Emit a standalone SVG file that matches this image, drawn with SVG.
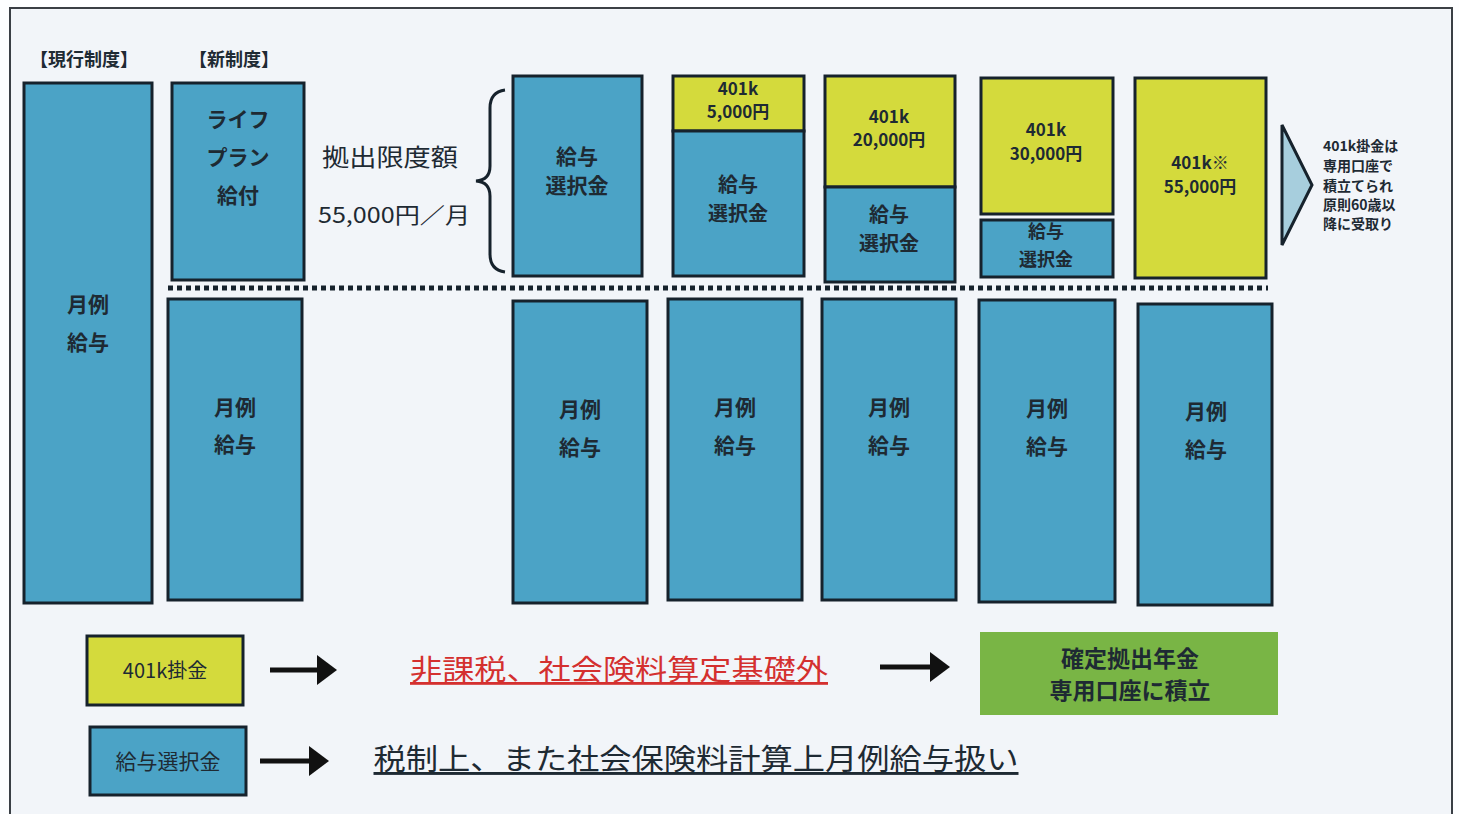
<svg xmlns="http://www.w3.org/2000/svg" width="1459" height="814" viewBox="0 0 1459 814">
<defs>
<style>
.t{font-family:"Noto Sans CJK JP","Liberation Sans",sans-serif;font-weight:bold;fill:#1e2a33;text-anchor:middle}
.b{fill:#4ba3c6;stroke:#16222c;stroke-width:3}
.y{fill:#d4da3c;stroke:#16222c;stroke-width:3}
.bt{font-size:21px}
.yt{font-size:17px}
.conn{stroke:#111;stroke-width:5;fill:none}
</style>
<marker id="ah" markerWidth="6" markerHeight="6" refX="3" refY="3" orient="auto" markerUnits="strokeWidth">
<path d="M0,0 L4,3 L0,6 Z" fill="#111"/>
</marker>
</defs>
<rect x="0" y="0" width="1459" height="814" fill="#fdfeff"/>
<rect x="10" y="8" width="1442" height="810" fill="#f2f5f9" stroke="#3a3f45" stroke-width="2"/>

<text class="t" x="84" y="66" style="font-size:18px" textLength="108" lengthAdjust="spacingAndGlyphs">【現行制度】</text>
<text class="t" x="234" y="66" style="font-size:18px" textLength="90" lengthAdjust="spacingAndGlyphs">【新制度】</text>

<g id="current">
<rect class="b" x="24" y="83" width="128" height="520"/>
<text class="t bt" x="88" y="312">月例</text>
<text class="t bt" x="88" y="350">給与</text>
</g>

<g id="lifeplan">
<rect class="b" x="172" y="83" width="132" height="197"/>
<text class="t bt" x="238" y="127">ライフ</text>
<text class="t bt" x="238" y="165">プラン</text>
<text class="t bt" x="238" y="203">給付</text>
</g>
<g id="new-monthly">
<rect class="b" x="168" y="299" width="134" height="301"/>
<text class="t bt" x="235" y="415">月例</text>
<text class="t bt" x="235" y="452">給与</text>
</g>

<g id="limit">
<text class="t" x="390" y="166" style="font-size:24px;font-weight:normal" textLength="136" lengthAdjust="spacingAndGlyphs">拠出限度額</text>
<text class="t" x="394" y="223" style="font-size:22px;font-weight:normal" textLength="152" lengthAdjust="spacingAndGlyphs">55,000円／月</text>
<path d="M505,90 Q490,92 490,108 L490,166 Q490,180 476,181 Q490,182 490,196 L490,254 Q490,270 505,272" fill="none" stroke="#16222c" stroke-width="3"/>
</g>

<line x1="168" y1="288" x2="1268" y2="288" stroke="#16222c" stroke-width="5" stroke-dasharray="5,4"/>

<g id="col1">
<rect class="b" x="513" y="76" width="129" height="200"/>
<text class="t bt" x="577" y="164">給与</text>
<text class="t bt" x="577" y="193">選択金</text>
</g>
<g id="col1-monthly">
<rect class="b" x="513" y="301" width="134" height="302"/>
<text class="t bt" x="580" y="417">月例</text>
<text class="t bt" x="580" y="455">給与</text>
</g>

<g id="col2">
<rect class="y" x="673" y="76" width="131" height="55"/>
<text class="t yt" x="738" y="95">401k</text>
<text class="t yt" x="738" y="118">5,000円</text>
<rect class="b" x="673" y="131" width="131" height="145"/>
<text class="t" x="738" y="192" style="font-size:20px">給与</text>
<text class="t" x="738" y="221" style="font-size:20px">選択金</text>
</g>
<g id="col2-monthly">
<rect class="b" x="668" y="299" width="134" height="301"/>
<text class="t bt" x="735" y="415">月例</text>
<text class="t bt" x="735" y="453">給与</text>
</g>

<g id="col3">
<rect class="y" x="825" y="76" width="130" height="111"/>
<text class="t yt" x="889" y="123">401k</text>
<text class="t yt" x="889" y="146">20,000円</text>
<rect class="b" x="825" y="187" width="130" height="95"/>
<text class="t" x="889" y="222" style="font-size:20px">給与</text>
<text class="t" x="889" y="251" style="font-size:20px">選択金</text>
</g>
<g id="col3-monthly">
<rect class="b" x="822" y="299" width="134" height="301"/>
<text class="t bt" x="889" y="415">月例</text>
<text class="t bt" x="889" y="453">給与</text>
</g>

<g id="col4">
<rect class="y" x="981" y="78" width="132" height="136"/>
<text class="t yt" x="1046" y="136">401k</text>
<text class="t yt" x="1046" y="160">30,000円</text>
<rect class="b" x="981" y="220" width="132" height="57"/>
<text class="t" x="1046" y="238" style="font-size:18px">給与</text>
<text class="t" x="1046" y="266" style="font-size:18px">選択金</text>
</g>
<g id="col4-monthly">
<rect class="b" x="979" y="300" width="136" height="302"/>
<text class="t bt" x="1047" y="416">月例</text>
<text class="t bt" x="1047" y="454">給与</text>
</g>

<g id="col5">
<rect class="y" x="1135" y="78" width="131" height="200"/>
<text class="t yt" x="1200" y="169">401k※</text>
<text class="t yt" x="1200" y="193">55,000円</text>
</g>
<g id="col5-monthly">
<rect class="b" x="1138" y="304" width="134" height="301"/>
<text class="t bt" x="1206" y="419">月例</text>
<text class="t bt" x="1206" y="457">給与</text>
</g>

<g id="note">
<polygon points="1282,125 1312,185 1282,245" fill="#a7cedd" stroke="#16222c" stroke-width="3"/>
<g class="t" style="font-size:14px;text-anchor:start">
<text x="1323" y="151">401k掛金は</text>
<text x="1323" y="171">専用口座で</text>
<text x="1323" y="191">積立てられ</text>
<text x="1323" y="210">原則60歳以</text>
<text x="1323" y="229">降に受取り</text>
</g>
</g>

<g id="legend-401k">
<rect class="y" x="87" y="636" width="156" height="69" stroke-width="2.5"/>
<text class="t" x="165" y="678" style="font-size:20px;font-weight:normal">401k掛金</text>
</g>
<g id="legend-salary">
<rect class="b" x="90" y="727" width="156" height="68" stroke-width="2.5"/>
<text class="t" x="168" y="769" style="font-size:21px;font-weight:normal">給与選択金</text>
</g>
<g id="tax-free">
<text class="t" x="619" y="680" style="font-size:28px;font-weight:normal;fill:#d4302f;text-decoration:underline" textLength="418" lengthAdjust="spacingAndGlyphs">非課税、社会険料算定基礎外</text>
</g>
<g id="taxed">
<text class="t" x="696" y="770" style="font-size:29px;font-weight:normal;text-decoration:underline" textLength="645" lengthAdjust="spacingAndGlyphs">税制上、また社会保険料計算上月例給与扱い</text>
</g>
<g id="dc-account">
<rect x="980" y="632" width="298" height="83" fill="#79b545"/>
<text class="t" x="1130" y="667" style="font-size:23px">確定拠出年金</text>
<text class="t" x="1130" y="699" style="font-size:23px">専用口座に積立</text>
</g>

<g id="connectors">
<line class="conn" x1="270" y1="670" x2="332" y2="670" marker-end="url(#ah)"/>
<line class="conn" x1="880" y1="667" x2="945" y2="667" marker-end="url(#ah)"/>
<line class="conn" x1="260" y1="761" x2="324" y2="761" marker-end="url(#ah)"/>
</g>
</svg>
